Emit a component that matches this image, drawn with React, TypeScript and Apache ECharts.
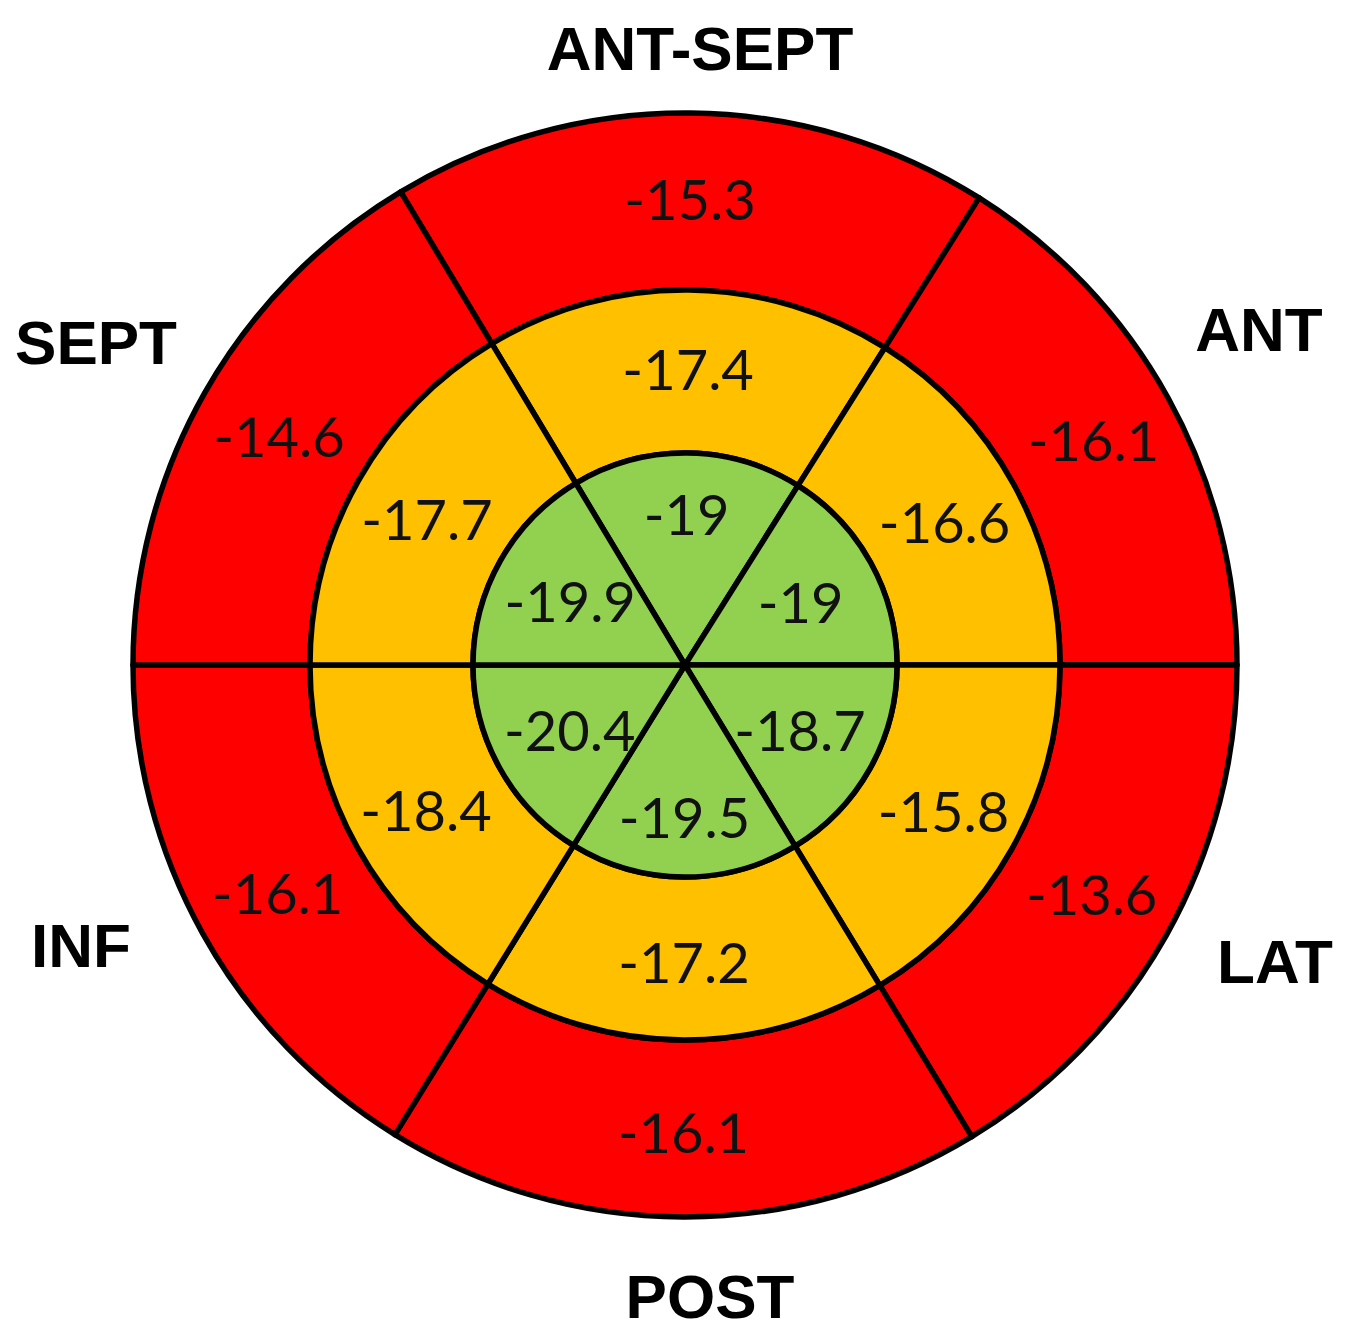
import React, { useEffect, useRef } from "react";
import * as echarts from "echarts";

// Segments clockwise, starting with the top one
const segmentNames = ["ANT-SEPT", "ANT", "LAT", "POST", "INF", "SEPT"];
const segmentArcs = [63.2, 57.8, 58.7, 63, 58.3, 59];
const basalValues = [-15.3, -16.1, -13.6, -16.1, -16.1, -14.6];
const midValues = [-17.4, -16.6, -15.8, -17.2, -18.4, -17.7];
const apicalValues = [-19, -19, -18.7, -19.5, -20.4, -19.9];

// Wall label names and their positions around the plot
const wallLabels = ["ANT-SEPT", "ANT", "LAT", "POST", "INF", "SEPT"];
const wallLabelPos: [number, number][] = [
  [692, 40],
  [1251, 321],
  [1267, 953],
  [702, 1288],
  [73, 937],
  [88, 334],
];

const CX = 677;
const CY = 657;

const numberFont = {
  fontFamily: "Lato",
  fontSize: 56,
  color: "#111",
};

function ring(
  values: number[],
  radius: [number, number],
  color: string,
  showLabel: boolean,
  z: number,
  onlyIdx?: number[]
) {
  const transparent = color === "transparent";
  return {
    type: "pie",
    center: [CX, CY],
    radius,
    startAngle: 121,
    clockwise: true,
    silent: true,
    avoidLabelOverlap: false,
    z,
    emphasis: { disabled: true },
    itemStyle: {
      color,
      borderColor: transparent ? "transparent" : "#000",
      borderWidth: transparent ? 0 : 5.5,
    },
    label: showLabel
      ? {
          show: true,
          position: "inside",
          rotate: 0,
          ...numberFont,
          formatter: (p: any) => String(values[p.dataIndex]),
        }
      : { show: false },
    labelLine: { show: false },
    data: segmentArcs.map((v, i) => ({
      name: segmentNames[i],
      value: v,
      label: onlyIdx && !onlyIdx.includes(i) ? { show: false } : undefined,
    })),
  };
}

export default function App() {
  const ref = useRef<HTMLDivElement>(null);
  useEffect(() => {
    if (!ref.current) return;
    const chart = echarts.init(ref.current, undefined, { renderer: "svg" });
    chart.setOption({
      animation: false,
      backgroundColor: "#fff",
      series: [
        ring(basalValues, [375, 552], "#FF0000", true, 1),
        ring(midValues, [212, 375], "#FFC000", true, 2),
        ring(apicalValues, [0, 212], "#92D050", false, 3),
        ring(apicalValues, [86, 212], "transparent", true, 4, [0, 3]),
        ring(apicalValues, [46, 212], "transparent", true, 4, [1, 2, 4, 5]),
      ],
      graphic: wallLabels.map((t, i) => ({
        type: "text",
        x: wallLabelPos[i][0],
        y: wallLabelPos[i][1],
        z: 10,
        style: {
          text: t,
          fontFamily: "Liberation Sans",
          fontWeight: "bold",
          fontSize: 62,
          fill: "#000",
          textAlign: "center",
          textVerticalAlign: "middle",
        },
      })),
    });
    return () => chart.dispose();
  }, []);
  return <div ref={ref} style={{ width: 1334, height: 1322 }} />;
}
